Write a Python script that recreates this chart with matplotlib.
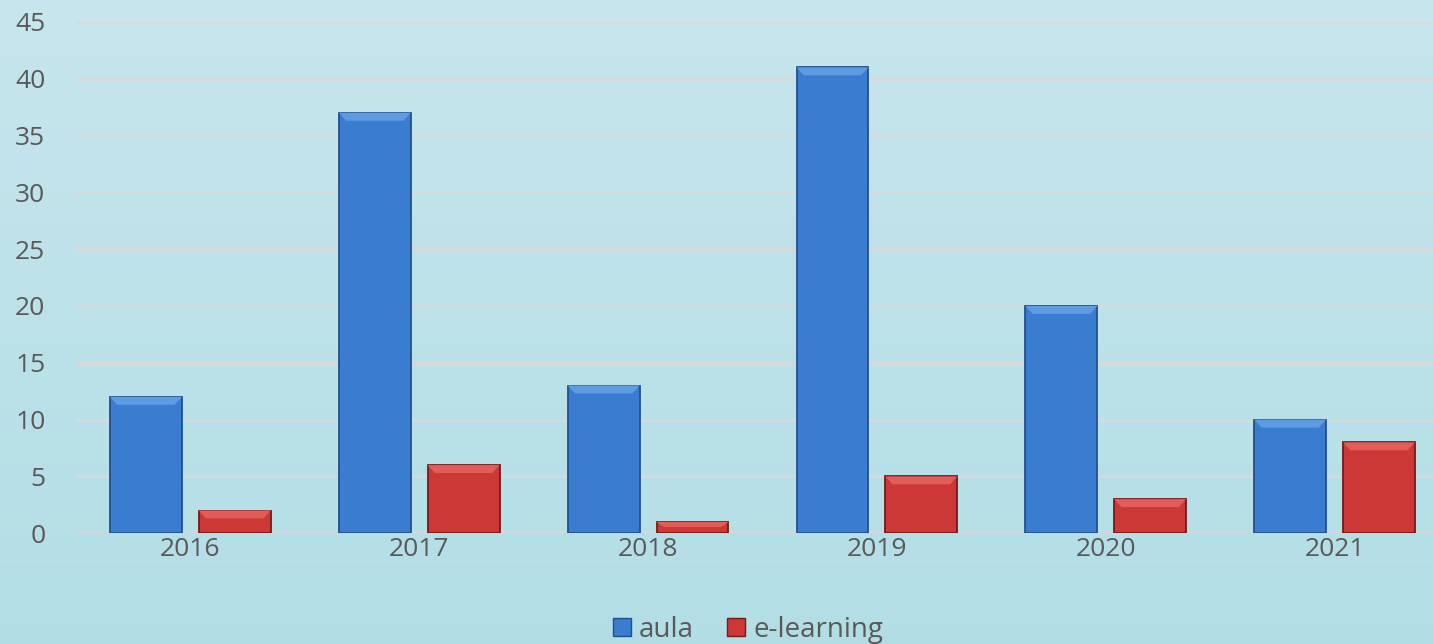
import matplotlib.pyplot as plt
import numpy as np
from matplotlib.patches import Polygon, Patch

years = ['2016', '2017', '2018', '2019', '2020', '2021']
aula = [12, 37, 13, 41, 20, 10]
elearning = [2, 6, 1, 5, 3, 8]

plt.rcParams['font.family'] = ['Open Sans', 'DejaVu Sans']
txt = '#595959'

fig = plt.figure(figsize=(14.33, 6.44), dpi=100)
# gradient background
bg = fig.add_axes([0, 0, 1, 1], zorder=-10)
grad = np.linspace(0, 1, 256).reshape(-1, 1)
c_top = np.array([0.78, 0.90, 0.93])
c_bot = np.array([0.70, 0.87, 0.90])
img = c_top + (c_bot - c_top) * grad[:, :, None]
bg.imshow(img, aspect='auto', extent=[0, 1, 0, 1])
bg.axis('off')

ax = fig.add_axes([0.053, 0.172, 0.947, 0.794])
ax.patch.set_alpha(0)
x = np.arange(len(years))
w = 0.314
gap = 0.074
b1 = ax.bar(x - (w + gap) / 2, aula, w, color='#3a7ccf', edgecolor='#23508c', linewidth=1.3, zorder=3)
b2 = ax.bar(x + (w + gap) / 2, elearning, w, color='#cc3835', edgecolor='#7a1818', linewidth=1.3, zorder=3)

# bevel on top of each bar
for bars, light in ((b1, '#5d9be3'), (b2, '#e25d59')):
    for p in bars:
        x0, y0 = p.get_x(), p.get_y()
        bw, bh = p.get_width(), p.get_height()
        dy = min(0.7, bh * 0.45)
        dx = bw * 0.1
        top = y0 + bh
        ax.add_patch(Polygon([[x0, top], [x0 + bw, top], [x0 + bw - dx, top - dy], [x0 + dx, top - dy]],
                             closed=True, facecolor=light, edgecolor='none', zorder=4))

ax.set_ylim(0, 45)
ax.set_xlim(-0.5, 5.43)
ax.set_yticks(range(0, 46, 5))
ax.yaxis.grid(True, color='#d9d9d9', linewidth=2, zorder=0)
ax.set_axisbelow(True)
for s in ax.spines.values():
    s.set_visible(False)
ax.set_xticks(x)
ax.set_xticklabels(years)
ax.tick_params(axis='both', length=0, labelsize=19, colors=txt)
ax.tick_params(axis='x', pad=3)
ax.tick_params(axis='y', pad=22)

handles = [Patch(facecolor='#3a7ccf', edgecolor='#23508c'), Patch(facecolor='#cc3835', edgecolor='#7a1818')]
fig.legend(handles, ['aula', 'e-learning'], loc='center', bbox_to_anchor=(0.522, 0.022), ncol=2,
           frameon=False, fontsize=20, labelcolor=txt, handlelength=0.65, handleheight=0.65,
           handletextpad=0.3, columnspacing=1.2)

fig.savefig('out.png', dpi=100)
